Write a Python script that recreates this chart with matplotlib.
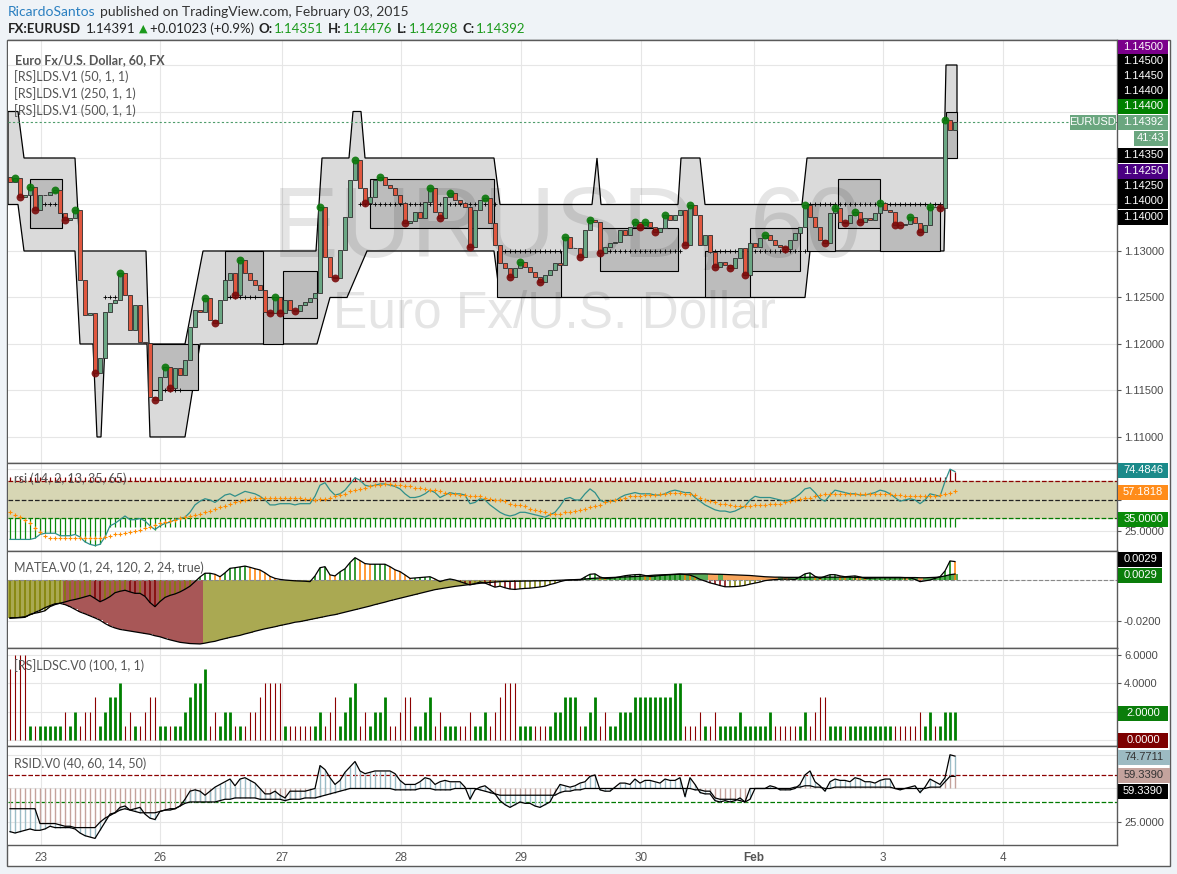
import numpy as np
import matplotlib
matplotlib.use("Agg")
import matplotlib.pyplot as plt
from matplotlib.patches import Rectangle, Polygon

plt.rcParams['font.family'] = ['Liberation Sans', 'DejaVu Sans']

W, H = 1177, 874

# ---------------- data (hourly bars, EURUSD 60) ----------------
first_open = 1.1380
close = [
    1.1374, 1.1379, 1.1358, 1.1360, 1.1369, 1.1344, 1.1360, 1.1360, 1.1363, 1.1366,
    1.1341, 1.1333, 1.1335, 1.1344, 1.1269, 1.1231, 1.1233, 1.1169, 1.1185, 1.1234,
    1.1244, 1.1247, 1.1276, 1.1253, 1.1215, 1.1242, 1.1202, 1.1201, 1.1143, 1.1140,
    1.1165, 1.1175, 1.1153, 1.1174, 1.1167, 1.1183, 1.1218, 1.1237, 1.1234, 1.1249,
    1.1226, 1.1223, 1.1247, 1.1269, 1.1276, 1.1253, 1.1290, 1.1276, 1.1269, 1.1263,
    1.1258, 1.1234, 1.1233, 1.1251, 1.1233, 1.1247, 1.1237, 1.1235, 1.1242, 1.1245,
    1.1249, 1.1255, 1.1347, 1.1294, 1.1272, 1.1271, 1.1301, 1.1337, 1.1376, 1.1398,
    1.1368, 1.1352, 1.1358, 1.1376, 1.1380, 1.1371, 1.1368, 1.1360, 1.1352, 1.1330,
    1.1332, 1.1342, 1.1335, 1.1353, 1.1368, 1.1342, 1.1335, 1.1358, 1.1362, 1.1355,
    1.1352, 1.1347, 1.1304, 1.1344, 1.1355, 1.1357, 1.1330, 1.1306, 1.1287, 1.1282,
    1.1272, 1.1282, 1.1288, 1.1283, 1.1277, 1.1272, 1.1267, 1.1274, 1.1280, 1.1287,
    1.1285, 1.1315, 1.1303, 1.1303, 1.1294, 1.1323, 1.1333, 1.1331, 1.1298, 1.1304,
    1.1309, 1.1310, 1.1323, 1.1317, 1.1326, 1.1331, 1.1326, 1.1331, 1.1326, 1.1320,
    1.1325, 1.1339, 1.1333, 1.1339, 1.1344, 1.1306, 1.1349, 1.1339, 1.1306, 1.1317,
    1.1299, 1.1283, 1.1288, 1.1285, 1.1282, 1.1292, 1.1303, 1.1274, 1.1309, 1.1304,
    1.1314, 1.1317, 1.1312, 1.1306, 1.1304, 1.1302, 1.1312, 1.1319, 1.1326, 1.1349,
    1.1337, 1.1326, 1.1312, 1.1309, 1.1341, 1.1346, 1.1331, 1.1330, 1.1339, 1.1342,
    1.1331, 1.1335, 1.1333, 1.1341, 1.1352, 1.1344, 1.1342, 1.1328, 1.1328, 1.1329,
    1.1337, 1.1330, 1.1320, 1.1328, 1.1347, 1.1347, 1.1346, 1.1441, 1.1430, 1.1439,
]
last_price = 1.14392

# [RS]LDS.V1 channel levels: (bar, price) vertices
lds_upper = [(-0.4, 1.145), (1.6, 1.145), (2.8, 1.14), (13, 1.14), (14, 1.13), (27.2, 1.13),
             (27.8, 1.12), (35, 1.12), (38.6, 1.13), (61.2, 1.13), (62.4, 1.14), (67.8, 1.14),
             (68.6, 1.145), (70.2, 1.145), (71, 1.14), (96.8, 1.14), (98, 1.135), (116.4, 1.135),
             (117.4, 1.14), (118.2, 1.135), (133.6, 1.135), (134.2, 1.14), (138, 1.14),
             (139, 1.135), (158.4, 1.135), (159.4, 1.14), (186.8, 1.14), (187.2, 1.15), (189.4, 1.15)]
lds_lower = [(-0.4, 1.135), (1.6, 1.135), (2.8, 1.13), (13, 1.13), (14, 1.12), (16.6, 1.12),
             (17.4, 1.11), (18.2, 1.11), (19, 1.12), (27.4, 1.12), (28, 1.11), (35, 1.11),
             (38, 1.12), (61.4, 1.12), (64, 1.125), (67.4, 1.125), (71.4, 1.13), (96.8, 1.13),
             (98, 1.125), (159, 1.125), (160, 1.13), (186.8, 1.13), (187.2, 1.14), (189.4, 1.14)]
# inner channels: (bar from, bar to, top, bottom)
lds_inner = [(4, 10.4, 1.1377, 1.1325), (28, 37.6, 1.12, 1.115), (43, 50.6, 1.13, 1.125),
             (50.6, 54.6, 1.125, 1.12), (54.6, 61.4, 1.1278, 1.1228), (72, 96.8, 1.1377, 1.1325),
             (97.4, 110.2, 1.13, 1.125), (118, 133.6, 1.1325, 1.1278), (139, 148, 1.13, 1.125),
             (148, 158, 1.1325, 1.1278), (159.4, 165, 1.135, 1.13), (165.6, 174, 1.1377, 1.1325),
             (174, 186, 1.135, 1.13), (187.2, 189.4, 1.145, 1.14)]
# mid levels drawn as '+' dotted lines: (bar from, bar to, price)
lds_mid = [(6, 10, 1.135), (19, 21, 1.125), (31, 34, 1.115), (43, 49, 1.125), (70, 97, 1.135),
           (99, 110, 1.13), (118, 134, 1.13), (140, 159, 1.13), (160, 187, 1.135)]

rsi = [
    18, 18, 18, 18, 18, 19, 22, 23, 23, 23, 21, 21, 21, 22, 20, 16, 14, 13, 14, 20,
    29, 31, 34, 37, 34, 34, 35, 33, 29, 26, 29, 31, 32, 34, 35, 36, 40, 46, 49, 51,
    50, 48, 51, 54, 55, 53, 55, 57, 56, 55, 53, 50, 46, 46, 47, 47, 47, 46, 47, 47,
    47, 53, 62, 64, 58, 54, 55, 58, 63, 68, 66, 62, 61, 62, 63, 63, 62, 61, 59, 55,
    52, 52, 53, 55, 58, 56, 52, 54, 56, 55, 55, 54, 47, 48, 51, 50, 46, 43, 40, 38,
    37, 38, 40, 40, 39, 38, 37, 36, 38, 40, 45, 51, 52, 50, 50, 55, 59, 56, 50, 48,
    49, 49, 52, 54, 55, 56, 55, 55, 55, 54, 54, 55, 57, 58, 57, 56, 56, 52, 49, 46,
    44, 42, 41, 41, 40, 41, 43, 45, 50, 53, 52, 52, 52, 51, 50, 49, 50, 52, 55, 59,
    60, 56, 51, 49, 54, 58, 57, 56, 55, 55, 54, 54, 55, 56, 58, 57, 55, 52, 49, 50,
    51, 50, 47, 50, 55, 54, 53, 65, 75, 73,
]
rsi_signal = [
    40, 38, 36, 34, 31, 27, 24, 21, 19, 19, 19, 19, 19, 19, 19, 19, 19, 19, 19, 20,
    21, 22, 22, 23, 24, 25, 26, 27, 28, 30, 31, 32, 33, 34, 35, 36, 37, 38, 39, 40,
    41, 43, 44, 45, 47, 48, 49, 50, 51, 52, 52, 52, 52, 52, 52, 52, 52, 52, 52, 51,
    51, 50, 51, 51, 52, 53, 54, 55, 57, 58, 59, 60, 61, 62, 62, 63, 63, 62, 62, 61,
    61, 60, 60, 59, 58, 58, 57, 56, 55, 55, 54, 54, 53, 53, 53, 52, 51, 50, 50, 49,
    47, 46, 46, 45, 43, 42, 41, 40, 39, 39, 39, 40, 40, 41, 42, 43, 44, 45, 46, 48,
    49, 50, 51, 52, 53, 53, 53, 54, 54, 54, 55, 55, 56, 56, 56, 55, 55, 54, 52, 50,
    49, 48, 47, 47, 46, 45, 45, 45, 45, 46, 46, 46, 47, 47, 47, 48, 49, 50, 51, 52,
    52, 53, 54, 55, 55, 55, 55, 55, 55, 55, 55, 55, 55, 55, 55, 55, 55, 54, 54, 53,
    53, 53, 53, 53, 53, 53, 54, 55, 56, 57,
]
# MATEA.V0 values in pips (1e-4)
matea_fast_pips = [
    -184, -184, -184, -182, -168, -162, -157, -150, -130, -120,
    -113, -107, -100, -95, -89, -82, -75, -90, -106, -95,
    -81, -62, -55, -50, -58, -65, -65, -80, -110, -130,
    -105, -85, -75, -68, -58, -45, -30, -8, 15, 33,
    33, 28, 16, 35, 57, 60, 64, 68, 62, 55,
    49, 35, 18, 8, 3, 0, -2, -4, -5, -6,
    -8, 20, 60, 65, 25, 20, 40, 55, 85, 109,
    95, 80, 77, 77, 77, 77, 65, 50, 41, 25,
    8, 10, 12, 14, 16, 5, -8, 0, 5, 0,
    -8, -16, -24, -18, -10, -15, -25, -35, -30, -38,
    -44, -46, -43, -41, -40, -37, -34, -30, -22, -16,
    -8, -2, 0, 0, 0, 15, 28, 30, 15, 8,
    9, 11, 16, 21, 24, 26, 27, 22, 17, 19,
    22, 24, 26, 27, 29, 27, 24, 15, 3, -5,
    -14, -20, -27, -33, -33, -32, -30, -26, -20, -15,
    -10, -3, 0, 2, 4, 5, 4, 3, 15, 30,
    35, 18, 8, 18, 26, 26, 20, 16, 18, 20,
    15, 8, 9, 10, 11, 11, 11, 11, 11, 11,
    11, 3, -8, -4, 0, 8, 16, 44, 93, 90,
]
matea_slow_pips = [
    -187, -185, -182, -179, -170, -158, -148, -135, -125, -116,
    -114, -120, -130, -143, -156, -165, -175, -185, -196, -212,
    -225, -234, -241, -245, -249, -253, -257, -261, -265, -272,
    -277, -285, -292, -298, -304, -307, -310, -311, -312, -308,
    -303, -299, -292, -286, -280, -275, -270, -263, -257, -250,
    -244, -238, -233, -228, -222, -217, -212, -206, -203, -198,
    -193, -188, -183, -178, -173, -169, -163, -157, -151, -145,
    -139, -133, -127, -120, -114, -108, -101, -95, -89, -83,
    -77, -71, -65, -59, -53, -47, -43, -39, -35, -31,
    -28, -25, -22, -19, -16, -14, -12, -10, -8, -7,
    -7, -6, -6, -5, -5, -4, -4, -3, -3, -2,
    -1, 0, 1, 2, 3, 5, 7, 9, 10, 11,
    12, 13, 14, 15, 16, 17, 18, 20, 22, 24,
    25, 26, 27, 28, 29, 29, 30, 30, 30, 30,
    29, 28, 28, 27, 26, 25, 24, 23, 22, 20,
    18, 16, 15, 14, 14, 13, 13, 13, 13, 13,
    14, 14, 14, 14, 14, 14, 14, 14, 14, 13,
    13, 13, 13, 13, 13, 13, 13, 13, 13, 12,
    12, 12, 11, 11, 12, 13, 15, 20, 26, 29,
]
ldsc_vals = [
    5, 6, 6, 6, 1, 1, 1, 1, 1, 1, 1, 2, 1, 2, 1, 2, 2, 3, 1, 2,
    3, 3, 4, 1, 2, 1, 1, 2, 3, 3, 1, 1, 1, 1, 1, 2, 3, 4, 4, 5,
    1, 2, 1, 2, 2, 1, 1, 1, 2, 2, 3, 4, 4, 4, 4, 1, 1, 1, 1, 1,
    1, 1, 2, 1, 2, 3, 1, 2, 3, 4, 1, 2, 1, 2, 2, 3, 1, 1, 2, 3,
    3, 1, 1, 2, 3, 1, 2, 1, 1, 1, 1, 1, 2, 1, 1, 2, 1, 2, 3, 4,
    4, 4, 1, 1, 1, 1, 1, 1, 1, 2, 2, 3, 3, 3, 1, 1, 2, 3, 1, 2,
    1, 1, 2, 2, 2, 3, 3, 3, 3, 3, 3, 3, 3, 4, 4, 1, 1, 1, 2, 1,
    1, 2, 1, 1, 1, 1, 2, 1, 1, 1, 1, 1, 2, 1, 1, 1, 1, 1, 1, 2,
    1, 2, 3, 3, 1, 1, 1, 1, 1, 1, 1, 1, 1, 1, 1, 1, 1, 1, 1, 1,
    1, 1, 2, 1, 2, 1, 1, 2, 2, 2,
]
ldsc_dir = ("rrrrgrgggg" "grggrrrrgg" "gggrrgrrrr" "ggrggggggg" "rrgggrgrrr"
            "rrrrrgrrrr" "rggrrrgggg" "rrggggrrrr" "rggggrrggg" "rrrgggrrrr"
            "rrgggrrrgg" "ggggrgggrr" "gggggggggg" "gggggrrrrg" "rrgggggggg"
            "gggrrrrrgg" "rrrrgggrgg" "gggggggrrr" "rrrggrgggg")
rsid_fast = [
    18, 17, 18, 19, 20, 19, 19, 20, 22, 21, 21, 21, 21, 20, 17, 15, 14, 13, 19, 25,
    31, 32, 36, 37, 34, 35, 36, 31, 28, 27, 33, 34, 34, 35, 37, 42, 48, 49, 48, 45,
    48, 51, 53, 55, 57, 52, 57, 58, 56, 54, 50, 46, 46, 48, 45, 43, 48, 48, 48, 48,
    49, 50, 67, 64, 58, 53, 56, 62, 66, 70, 63, 61, 62, 63, 63, 63, 63, 61, 56, 53,
    53, 53, 55, 58, 57, 53, 55, 56, 55, 55, 55, 51, 42, 49, 51, 52, 49, 46, 41, 38,
    36, 38, 40, 39, 39, 37, 36, 38, 40, 47, 53, 52, 51, 52, 54, 55, 59, 60, 49, 48,
    48, 51, 54, 54, 53, 57, 54, 56, 56, 55, 54, 57, 56, 56, 58, 44, 58, 53, 47, 46,
    46, 41, 40, 41, 40, 41, 43, 40, 42, 50, 50, 50, 52, 51, 49, 49, 49, 50, 53, 60,
    63, 55, 52, 48, 55, 57, 56, 56, 55, 58, 57, 55, 55, 54, 56, 57, 57, 50, 49, 50,
    51, 52, 47, 51, 57, 55, 53, 58, 75, 74,
]
rsid_slow = [
    35, 35, 35, 35, 35, 35, 24, 24, 24, 24, 23, 22, 22, 21, 21, 21, 21, 21, 25, 28,
    30, 32, 34, 35, 34, 33, 32, 32, 32, 32, 33, 34, 35, 35, 37, 39, 40, 40, 40, 40,
    40, 40, 41, 42, 42, 43, 43, 43, 43, 43, 42, 42, 42, 42, 42, 41, 42, 42, 42, 43,
    43, 43, 44, 45, 46, 47, 48, 49, 50, 50, 50, 50, 50, 50, 50, 50, 50, 49, 49, 49,
    49, 49, 50, 50, 50, 49, 49, 49, 49, 50, 50, 50, 50, 50, 49, 48, 47, 46, 45, 45,
    45, 45, 45, 45, 45, 45, 45, 45, 45, 45, 47, 48, 48, 49, 49, 50, 50, 50, 50, 50,
    50, 50, 50, 50, 50, 50, 50, 50, 50, 50, 50, 50, 50, 50, 50, 50, 50, 49, 49, 48,
    48, 43, 42, 42, 42, 42, 41, 40, 50, 50, 50, 50, 50, 50, 50, 50, 50, 51, 51, 52,
    52, 51, 51, 50, 50, 51, 51, 51, 51, 51, 51, 51, 51, 51, 51, 51, 51, 50, 50, 50,
    50, 50, 50, 50, 51, 51, 51, 55, 59, 59,
]
date_pos = [6.2, 30, 54.4, 78.2, 102.2, 126.2, 148.8, 174.6, 198.6]
date_lbl = ['23', '26', '27', '28', '29', '30', 'Feb', '3', '4']

# ---------------- figure ----------------
fig = plt.figure(figsize=(W / 100, H / 100), dpi=100, facecolor='#eff3f7')


def fxp(px):
    return px / W


def fyp(py):
    return 1 - py / H


fig.patches.append(Rectangle((fxp(7), fyp(866)), fxp(1170) - fxp(7), fyp(40) - fyp(866),
                             transform=fig.transFigure, facecolor='white',
                             edgecolor='#5a5a5a', lw=1, zorder=-1))


def make_panel(top, bot, ylim, yticks, fmt, shown):
    # shown: tick values whose label is not covered by a value box
    ax = fig.add_axes([fxp(8), fyp(bot), fxp(1117) - fxp(8), fyp(top) - fyp(bot)])
    ax.set_facecolor('white')
    ax.set_xlim(-0.4, 221.4)
    ax.set_ylim(*ylim)
    ax.set_yticks(yticks)
    ax.set_yticklabels([fmt % v if any(abs(v - s) < 1e-9 for s in shown) else '' for v in yticks])
    ax.yaxis.tick_right()
    ax.tick_params(axis='y', direction='out', length=3, width=0.8, color='#555555',
                   labelsize=8, labelcolor='#4a4a4a', pad=2)
    ax.set_xticks(date_pos)
    ax.tick_params(axis='x', length=0, labelbottom=False)
    ax.grid(True, color='#e6e6e6', lw=0.8)
    ax.set_axisbelow(True)
    for s in ax.spines.values():
        s.set_color('#5a5a5a')
        s.set_linewidth(1)
    ax.spines['left'].set_visible(False)
    return ax


close = np.array(close)
n = len(close)
x = np.arange(n)
opn = np.r_[first_open, close[:-1]]

# ---- main price panel ----
main_ticks = [1.110, 1.115, 1.120, 1.125, 1.130, 1.135, 1.140, 1.145, 1.150]
ax = make_panel(40, 463, (1.10720, 1.15269), main_ticks, '%.5f', main_ticks[:5])

ax.text(fxp(272), fyp(257), 'EURUSD, 60', transform=fig.transFigure, fontsize=72,
        color='black', alpha=0.1, ha='left', va='baseline', zorder=1.5)
ax.text(fxp(333), fyp(327), 'Euro Fx/U.S. Dollar', transform=fig.transFigure, fontsize=37,
        color='black', alpha=0.1, ha='left', va='baseline', zorder=1.5)

outer = np.array(lds_upper + lds_lower[::-1])
ax.add_patch(Polygon(outer, closed=True, facecolor='#dadada', edgecolor='black', lw=0.9, zorder=1))
for b0, b1, top, bot in lds_inner:
    ax.add_patch(Rectangle((b0, bot), b1 - b0, top - bot, facecolor='#bcbcbc',
                           edgecolor='black', lw=0.8, zorder=1.2))
for b0, b1, p in lds_mid:
    xs = x[(x >= b0) & (x <= b1)]
    ax.plot(xs, np.full(len(xs), p), ls=':', color='black', lw=0.7, marker='+', ms=2.5,
            mew=0.6, zorder=2)

ax.axhline(last_price, color='#4e9c6b', lw=0.8, ls=(0, (2, 2)), zorder=2)

up = close >= opn
ax.bar(x, close - opn, bottom=opn, width=0.7, color=np.where(up, '#6ba784', '#e0573f'),
       edgecolor='#2d2d2d', linewidth=0.6, zorder=3)

hi_body = np.maximum(opn, close)
lo_body = np.minimum(opn, close)
gx, gy, rx, ry = [], [], [], []
for i in range(n):
    win = close[max(0, i - 2):i + 3]
    if close[i] == win.max():
        gx.append(i)
        gy.append(hi_body[i])
    if close[i] == win.min():
        rx.append(i)
        ry.append(lo_body[i])
ax.scatter(gx, gy, s=32, color='#0a780a', zorder=4, alpha=0.9, linewidths=0)
ax.scatter(rx, ry, s=32, color='#7a0a0a', zorder=4, alpha=0.9, linewidths=0)

# ---- rsi panel ----
rsi = np.array(rsi)
ax2 = make_panel(463, 551, (8.6, 80.0), [25, 50, 75], '%.4f', [25])
ax2.axhspan(35, 65, color='#d7d6b4', zorder=0.6)
ax2.axhline(65, color='#8b0000', ls='--', lw=0.9)
ax2.axhline(50, color='#222222', ls='--', lw=0.9)
ax2.axhline(35, color='#007a00', ls='--', lw=0.9)
ax2.vlines(x, 65, np.maximum(rsi, 68.9), color='#8b0000', lw=0.9)
ax2.vlines(x, np.minimum(rsi, 28.4), 35, color='#0a8a0a', lw=0.9)
ax2.plot(x, rsi, color='#2f8f8a', lw=0.9)
ax2.plot(x, rsi_signal, ls='none', marker='+', ms=3, mew=0.8, color='#ff8c00')

# ---- MATEA panel ----
fast = np.array(matea_fast_pips) / 1e4
slow = np.array(matea_slow_pips) / 1e4
ds = np.diff(slow, prepend=slow[0])
df = np.diff(fast, prepend=fast[0])
fill_cols = np.where(slow < 0, np.where(ds < 0, '#a85757', '#aaa952'),
                     np.where(ds >= 0, '#58aa58', '#f7a55c'))
hist_cols = np.where(fast < 0, np.where(df < 0, '#800000', '#808000'),
                     np.where(df >= 0, '#008000', '#ff8000'))
ax3 = make_panel(551, 648, (-0.03317, 0.01415), [-0.02, 0.0], '%.4f', [-0.02])
ax3.bar(x, slow, width=1.0, color=fill_cols, edgecolor='none', zorder=1)
ax3.vlines(x, 0, fast, colors=hist_cols, lw=1.1, zorder=2)
ax3.axhline(0, color='#888888', ls='--', lw=0.8, zorder=2.5)
ax3.plot(x, slow, color='black', lw=0.9, zorder=3)
ax3.plot(x, fast, color='black', lw=0.9, zorder=3)

# ---- LDSC panel ----
ax4 = make_panel(648, 746, (-0.42, 6.48), [0, 2, 4, 6], '%.4f', [4, 6])
cols = ['#008000' if d == 'g' else '#8b0000' for d in ldsc_dir]
lws = [2.0 if d == 'g' else 0.8 for d in ldsc_dir]
ax4.vlines(x, 0, ldsc_vals, colors=cols, linewidths=lws)

# ---- RSID panel ----
rf = np.array(rsid_fast)
rs = np.array(rsid_slow)
ax5 = make_panel(746, 845, (8.1, 81.5), [25, 50, 75], '%.4f', [25])
ax5.axhline(60, color='#8b0000', ls='--', lw=0.9)
ax5.axhline(40, color='#007a00', ls='--', lw=0.9)
ax5.vlines(x, 50, rs, color='#c4a29c', lw=1)
ax5.vlines(x, rs, rf, color='#9bbcc6', lw=1)
ax5.plot(x, rf, color='black', lw=0.9)
ax5.plot(x, rs, color='black', lw=0.9)
ax5.tick_params(axis='x', labelbottom=True, labelsize=8.5, labelcolor='#555555', pad=5)
ax5.set_xticklabels(date_lbl)
for t in ax5.get_xticklabels():
    if t.get_text() == 'Feb':
        t.set_fontweight('bold')

# ---------------- text ----------------
LATO = ['Lato', 'DejaVu Sans']
renderer = fig.canvas.get_renderer()


def text_run(ypx, pieces, x0=8):
    # lay the pieces out left to right, each after the previous one's width
    xpos = x0
    for s, c, w, fs, gap, fam in pieces:
        t = fig.text(fxp(xpos), fyp(ypx), s, color=c, fontsize=fs, family=fam, weight=w, va='center')
        xpos = t.get_window_extent(renderer).x1 + gap


text_run(12, [('RicardoSantos', '#2a7fc0', 'normal', 10, 4, LATO),
              ('published on TradingView.com, February 03, 2015', '#333333', 'normal', 10, 0, LATO)])
G = '#1c9a1c'
K = '#222222'
text_run(29, [('FX:EURUSD', K, 'bold', 9.5, 5, LATO), ('1.14391', K, 'normal', 9.5, 3, LATO),
              ('\u25B2', G, 'normal', 8, 3, ['DejaVu Sans']),
              ('+0.01023 (+0.9%)', K, 'normal', 9.5, 4, LATO),
              ('O:', K, 'bold', 9.5, 1, LATO), ('1.14351', G, 'normal', 9.5, 5, LATO),
              ('H:', K, 'bold', 9.5, 1, LATO), ('1.14476', G, 'normal', 9.5, 5, LATO),
              ('L:', K, 'bold', 9.5, 1, LATO), ('1.14298', G, 'normal', 9.5, 5, LATO),
              ('C:', K, 'bold', 9.5, 1, LATO), ('1.14392', G, 'normal', 9.5, 0, LATO)])

fig.text(fxp(15), fyp(60), 'Euro Fx/U.S. Dollar, 60, FX', color='#555555', fontsize=9,
         family=LATO, weight='bold', va='center')
for py, s in [(77, '[RS]LDS.V1 (50, 1, 1)'), (94, '[RS]LDS.V1 (250, 1, 1)'),
              (111, '[RS]LDS.V1 (500, 1, 1)'), (479, 'rsi (14, 2, 13, 35, 65)'),
              (568, 'MATEA.V0 (1, 24, 120, 2, 24, true)'), (666, '[RS]LDSC.V0 (100, 1, 1)'),
              (764, 'RSID.V0 (40, 60, 14, 50)')]:
    fig.text(fxp(14), fyp(py), s, color='#555555', fontsize=9, family=LATO, va='center')


def price_box(ypx, text, fc, tc='white', x0=1118, x1=1168, h=15):
    fig.patches.append(Rectangle((fxp(x0), fyp(ypx + h / 2)), fxp(x1) - fxp(x0), h / H,
                                 transform=fig.transFigure, facecolor=fc, edgecolor='none', zorder=5))
    fig.text(fxp((x0 + x1) / 2), fyp(ypx), text, ha='center', va='center', color=tc,
             fontsize=8, zorder=6)


for ypx, s, fc in [(47, '1.14500', '#7b008b'), (61, '1.14500', 'black'), (76, '1.14450', 'black'),
                   (91, '1.14400', 'black'), (106, '1.14400', '#008000'), (122, '1.14392', '#6aa67f'),
                   (155, '1.14350', 'black'), (171, '1.14250', '#4b0082'), (186, '1.14250', 'black'),
                   (201, '1.14000', 'black'), (217, '1.14000', 'black')]:
    price_box(ypx, s, fc)
price_box(138, '41:43', '#6aa67f', x0=1134)
price_box(122, 'EURUSD', '#6aa67f', x0=1070, x1=1116)

price_box(470, '74.4846', '#1b8a8a')
price_box(492, '57.1818', '#ff8c1a')
price_box(519, '35.0000', '#0a8a0a')
price_box(559, '0.0029', 'black', x1=1162)
price_box(575, '0.0029', '#0a7d0a', x1=1162)
price_box(713, '2.0000', '#0a7d0a')
price_box(740, '0.0000', '#7d0000')
price_box(757, '74.7711', '#9cbac2', tc='#333333', x1=1170)
price_box(775, '59.3390', '#c4a39d', tc='#333333', x1=1170)
price_box(791, '59.3390', 'black')

fig.savefig('out.png', dpi=100, facecolor=fig.get_facecolor())
